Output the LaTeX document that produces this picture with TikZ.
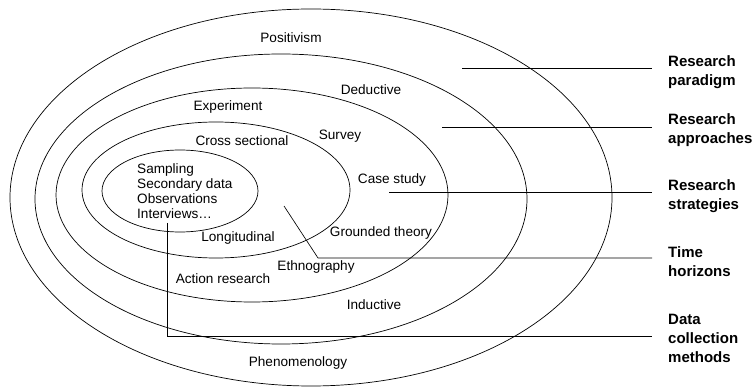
\documentclass[tikz,border=0pt]{standalone}
\usepackage{fontspec}
\setmainfont{Liberation Sans}
\begin{document}
\begin{tikzpicture}[x=1pt,y=-1pt,
  ring/.style={draw=black,line width=0.7pt},
  lead/.style={draw=black,line width=0.65pt},
  lbl/.style={font=\fontsize{13.6}{15}\selectfont,inner sep=0pt},
  side/.style={font=\fontsize{15}{19}\selectfont\bfseries,align=left,anchor=west,inner sep=0pt}]
\useasboundingbox (0,0) rectangle (755,387);
% rings
\draw[ring] (311,197.5) ellipse [x radius=301pt, y radius=188.5pt];
\draw[ring] (281,199) ellipse [x radius=246pt, y radius=145pt];
\draw[ring] (252,195) ellipse [x radius=196pt, y radius=107pt];
\draw[ring] (216,190) ellipse [x radius=134pt, y radius=68pt];
\draw[ring] (180,191) ellipse [x radius=78pt, y radius=41pt];
% ring texts
\node[lbl] (pos) at (291,38) {Positivism};
\node[lbl] (ded) at (371,90) {Deductive};
\node[lbl] (exp) at (228,107) {Experiment};
\node[lbl] (cross) at (242,141) {Cross sectional};
\node[lbl] (surv) at (340,136) {Survey};
\node[lbl] (case) at (392,180) {Case study};
\node[lbl,align=left,anchor=north west,font=\fontsize{13.6}{15}\selectfont] (data) at (137,163) {Sampling\\Secondary data\\Observations\\Interviews\ldots};
\node[lbl] (long) at (238,238) {Longitudinal};
\node[lbl] (grd) at (381,233) {Grounded theory};
\node[lbl] (eth) at (316,267) {Ethnography};
\node[lbl] (act) at (223,279) {Action research};
\node[lbl] (ind) at (374,305) {Inductive};
\node[lbl] (phen) at (298,363) {Phenomenology};
% side labels
\node[side] (sp) at (668,72) {Research\\paradigm};
\node[side] (sa) at (668,130) {Research\\approaches};
\node[side] (ss) at (668,196) {Research\\strategies};
\node[side] (st) at (668,262) {Time\\horizons};
\node[side] (sd) at (668,338) {Data\\collection\\methods};
% leader start/end points
\coordinate (p1) at (462,68);   \coordinate (e1) at (652,68);
\coordinate (p2) at (442,127);  \coordinate (e2) at (652,127);
\coordinate (p3) at (389,192);  \coordinate (e3) at (652,192);
\coordinate (p4) at (284,206);  \coordinate (k4) at (318,258); \coordinate (e4) at (652,258);
\coordinate (p5) at (167,223);  \coordinate (k5) at (167,336); \coordinate (e5) at (652,336);
\draw[lead] (p1) -- (e1);
\draw[lead] (p2) -- (e2);
\draw[lead] (p3) -- (e3);
\draw[lead] (p4) -- (k4) -- (e4);
\draw[lead] (p5) -- (k5) -- (e5);
\end{tikzpicture}
\end{document}
